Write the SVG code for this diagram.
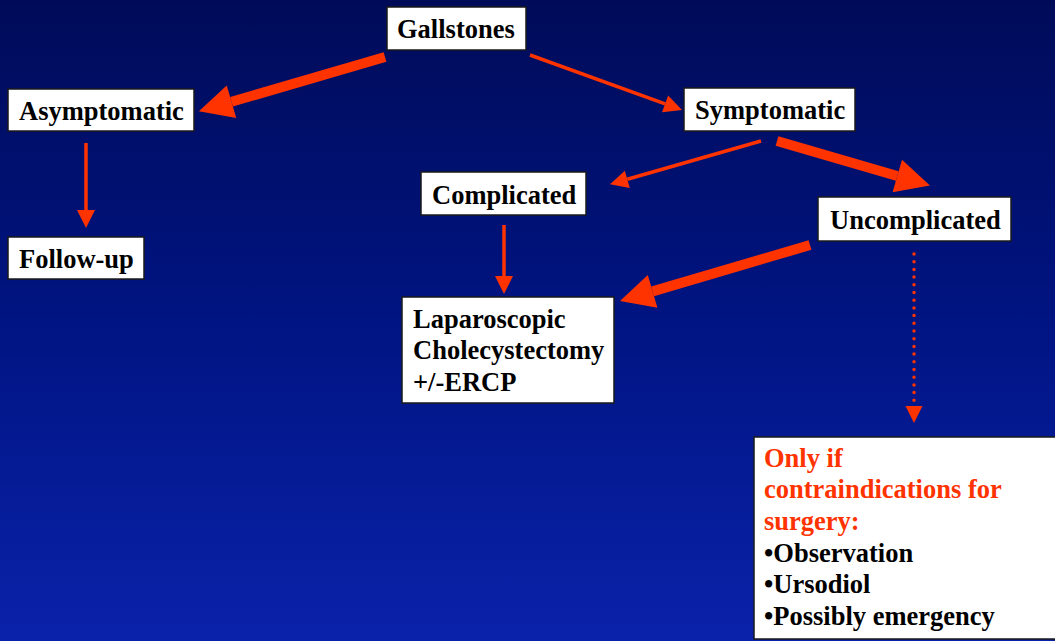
<svg xmlns="http://www.w3.org/2000/svg" width="1055" height="641" viewBox="0 0 1055 641">
  <defs>
    <linearGradient id="bg" x1="0" y1="0" x2="0" y2="1">
      <stop offset="0" stop-color="#000b58"/>
      <stop offset="0.5" stop-color="#001482"/>
      <stop offset="1" stop-color="#0a22aa"/>
    </linearGradient>
    <marker id="thin" markerUnits="userSpaceOnUse" markerWidth="20" markerHeight="20" refX="0" refY="9" orient="auto" overflow="visible">
      <path d="M0,0 L18,9 L0,18 Z" fill="#ff3300"/>
    </marker>
    <marker id="thick" markerUnits="userSpaceOnUse" markerWidth="40" markerHeight="40" refX="0" refY="17" orient="auto" overflow="visible">
      <path d="M0,0 L34,17 L0,34 Z" fill="#ff3300"/>
    </marker>
  </defs>
  <style>
    .box { fill: #ffffff; stroke: #1a1a1a; stroke-width: 1.5; }
    .lbl { font-family: "Liberation Serif", "Times New Roman", serif; font-weight: bold; font-size: 26.5px; fill: #000000; }
    .red { fill: #ff3300; }
    .thinl { stroke: #ff3300; stroke-width: 3.5; fill: none; marker-end: url(#thin); }
    .thickl { stroke: #ff3300; stroke-width: 10; fill: none; marker-end: url(#thick); }
    .dot { stroke: #ff3300; stroke-width: 3.5; fill: none; stroke-linecap: round; stroke-dasharray: 0 7.7; }
  </style>
  <rect x="0" y="0" width="1055" height="641" fill="url(#bg)"/>

  <g id="connectors">
    <line class="thickl" x1="385" y1="57" x2="231.5" y2="101.8"/>
    <line class="thinl" x1="530" y1="55" x2="665.1" y2="103.9"/>
    <line class="thinl" x1="86" y1="143" x2="86" y2="210"/>
    <line class="thinl" x1="761" y1="141" x2="627.3" y2="179.3"/>
    <line class="thickl" x1="777" y1="141" x2="897.3" y2="176"/>
    <line class="thinl" x1="504" y1="225" x2="504" y2="276"/>
    <line class="thickl" x1="810" y1="245" x2="652.6" y2="291.4"/>
    <line class="dot" x1="914" y1="254" x2="914" y2="403"/>
    <path d="M905.5,406 L914,423 L922.5,406 Z" fill="#ff3300"/>
  </g>

  <g id="gallstones">
    <rect class="box" x="387" y="7" width="139" height="43"/>
    <text class="lbl" x="397" y="38">Gallstones</text>
  </g>
  <g id="asymptomatic">
    <rect class="box" x="8" y="89" width="186" height="42"/>
    <text class="lbl" x="19" y="120">Asymptomatic</text>
  </g>
  <g id="symptomatic">
    <rect class="box" x="684" y="88" width="171" height="43"/>
    <text class="lbl" x="695" y="119">Symptomatic</text>
  </g>
  <g id="followup">
    <rect class="box" x="8" y="237" width="136" height="42"/>
    <text class="lbl" x="19" y="268">Follow-up</text>
  </g>
  <g id="complicated">
    <rect class="box" x="421" y="172" width="165" height="43"/>
    <text class="lbl" x="432" y="204">Complicated</text>
  </g>
  <g id="uncomplicated">
    <rect class="box" x="818" y="197" width="193" height="44"/>
    <text class="lbl" x="830" y="229">Uncomplicated</text>
  </g>
  <g id="laparoscopic">
    <rect class="box" x="402" y="297" width="212" height="106"/>
    <text class="lbl" x="413" y="328">Laparoscopic</text>
    <text class="lbl" x="413" y="359">Cholecystectomy</text>
    <text class="lbl" x="413" y="391">+/-ERCP</text>
  </g>
  <g id="alternatives">
    <rect class="box" x="754" y="437" width="310" height="202"/>
    <text class="lbl red" x="764" y="467">Only if</text>
    <text class="lbl red" x="764" y="498">contraindications for</text>
    <text class="lbl red" x="764" y="530">surgery:</text>
    <text class="lbl" x="764" y="562">•Observation</text>
    <text class="lbl" x="764" y="593">•Ursodiol</text>
    <text class="lbl" x="764" y="625">•Possibly emergency</text>
  </g>
</svg>
